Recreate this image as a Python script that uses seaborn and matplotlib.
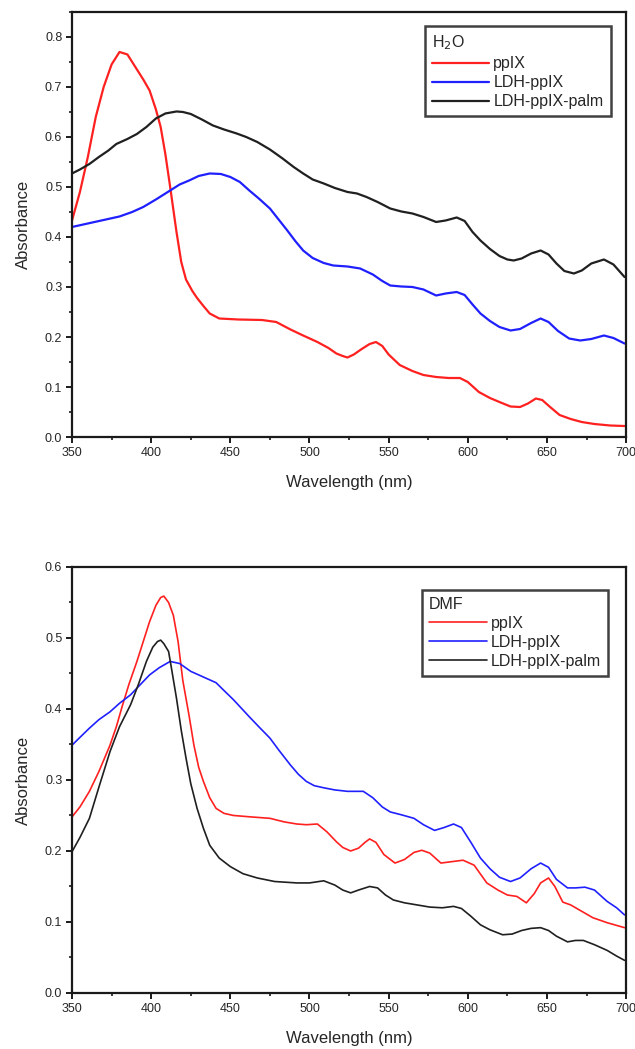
import numpy as np
import pandas as pd
import matplotlib
matplotlib.use("Agg")
import matplotlib.pyplot as plt
from matplotlib.ticker import MultipleLocator
import seaborn as sns

# ---------------- data: H2O panel ----------------
h2o_ppix_wl = [350, 355, 360, 365, 370, 375, 380, 385, 390, 395, 399, 403, 406, 409, 412, 416, 419, 422, 426, 429, 433, 437, 443, 455, 470, 479, 488, 496, 505, 512, 517, 521, 524, 528, 533, 538, 542, 546, 550, 557, 565, 572, 580, 588, 595, 600, 607, 614, 620, 627, 633, 638, 643, 647, 652, 658, 665, 672, 680, 690, 699]
h2o_ppix_a = [0.433, 0.49, 0.56, 0.64, 0.70, 0.745, 0.77, 0.765, 0.74, 0.715, 0.693, 0.655, 0.62, 0.565, 0.50, 0.41, 0.35, 0.315, 0.292, 0.278, 0.262, 0.247, 0.237, 0.235, 0.234, 0.23, 0.215, 0.203, 0.19, 0.178, 0.167, 0.162, 0.159, 0.165, 0.176, 0.186, 0.19, 0.182, 0.165, 0.144, 0.132, 0.124, 0.12, 0.118, 0.118, 0.11, 0.09, 0.078, 0.07, 0.061, 0.06, 0.067, 0.077, 0.074, 0.06, 0.044, 0.036, 0.03, 0.026, 0.023, 0.022]

h2o_ldh_wl = [350, 360, 370, 380, 388, 395, 403, 412, 418, 424, 430, 437, 444, 450, 456, 462, 468, 475, 480, 486, 491, 496, 502, 509, 515, 524, 532, 540, 546, 551, 558, 565, 572, 580, 586, 593, 598, 603, 608, 614, 620, 627, 633, 640, 646, 651, 657, 664, 671, 678, 686, 692, 699]
h2o_ldh_a = [0.42, 0.427, 0.434, 0.441, 0.45, 0.46, 0.475, 0.493, 0.505, 0.513, 0.522, 0.527, 0.526, 0.52, 0.51, 0.493, 0.477, 0.457, 0.437, 0.413, 0.392, 0.373, 0.358, 0.348, 0.343, 0.341, 0.337, 0.325, 0.312, 0.303, 0.301, 0.3, 0.295, 0.283, 0.287, 0.29, 0.284, 0.265, 0.247, 0.232, 0.22, 0.213, 0.216, 0.228, 0.237, 0.23, 0.212, 0.197, 0.193, 0.196, 0.203, 0.198, 0.187]

h2o_palm_wl = [350, 355, 361, 367, 373, 378, 385, 391, 397, 403, 409, 416, 420, 425, 432, 439, 446, 454, 460, 467, 475, 483, 490, 496, 502, 509, 516, 524, 530, 536, 543, 551, 558, 565, 572, 580, 586, 593, 598, 603, 608, 614, 620, 625, 629, 634, 640, 646, 651, 656, 661, 667, 672, 678, 686, 692, 699]
h2o_palm_a = [0.527, 0.535, 0.546, 0.56, 0.573, 0.586, 0.596, 0.606, 0.62, 0.637, 0.647, 0.651, 0.65, 0.646, 0.635, 0.623, 0.615, 0.607, 0.6, 0.59, 0.575, 0.557, 0.54, 0.527, 0.515, 0.507, 0.498, 0.49, 0.487, 0.48, 0.47, 0.457, 0.451, 0.447, 0.44, 0.43, 0.433, 0.439, 0.432, 0.41, 0.393, 0.376, 0.362, 0.355, 0.353, 0.357, 0.367, 0.373, 0.365, 0.347, 0.332, 0.327, 0.333, 0.347, 0.355, 0.345, 0.32]

# ---------------- data: DMF panel ----------------
dmf_ppix_wl = [350, 355, 361, 367, 374, 378, 382, 386, 391, 395, 399, 403, 406, 408, 411, 414, 417, 420, 424, 427, 430, 433, 437, 441, 446, 452, 463, 475, 484, 492, 498, 505, 511, 517, 521, 526, 531, 535, 538, 542, 547, 554, 560, 566, 571, 576, 583, 590, 597, 604, 612, 619, 625, 631, 637, 642, 646, 651, 655, 660, 665, 672, 679, 688, 699]
dmf_ppix_a = [0.248, 0.262, 0.284, 0.312, 0.349, 0.375, 0.406, 0.435, 0.467, 0.495, 0.523, 0.546, 0.557, 0.559, 0.55, 0.532, 0.495, 0.44, 0.39, 0.349, 0.318, 0.298, 0.275, 0.26, 0.253, 0.25, 0.248, 0.246, 0.241, 0.238, 0.237, 0.238, 0.227, 0.213, 0.205, 0.2, 0.204, 0.212, 0.217, 0.212, 0.195, 0.183, 0.188, 0.198, 0.201, 0.197, 0.183, 0.185, 0.187, 0.18, 0.155, 0.145, 0.138, 0.136, 0.127, 0.14, 0.155, 0.162, 0.15, 0.128, 0.124, 0.115, 0.106, 0.099, 0.092]

dmf_ldh_wl = [350, 355, 361, 367, 374, 380, 387, 393, 399, 405, 412, 418, 425, 433, 441, 446, 452, 457, 462, 468, 475, 481, 488, 493, 498, 503, 509, 516, 524, 534, 540, 546, 551, 558, 566, 572, 579, 585, 591, 596, 602, 608, 614, 620, 627, 633, 640, 646, 651, 656, 663, 668, 674, 680, 688, 694, 699]
dmf_ldh_a = [0.349, 0.36, 0.373, 0.385, 0.396, 0.408, 0.42, 0.434, 0.448, 0.458, 0.467, 0.464, 0.453, 0.445, 0.437, 0.426, 0.413, 0.401, 0.389, 0.375, 0.359, 0.341, 0.321, 0.308, 0.298, 0.292, 0.289, 0.286, 0.284, 0.284, 0.275, 0.262, 0.255, 0.251, 0.246, 0.237, 0.229, 0.233, 0.238, 0.233, 0.212, 0.19, 0.175, 0.163, 0.157, 0.162, 0.175, 0.183, 0.177, 0.16, 0.148, 0.148, 0.149, 0.145, 0.129, 0.12, 0.11]

dmf_palm_wl = [350, 355, 361, 367, 374, 380, 387, 392, 397, 401, 404, 406, 408, 411, 413, 416, 419, 422, 425, 429, 433, 437, 443, 450, 458, 467, 478, 492, 500, 509, 516, 521, 526, 531, 538, 543, 548, 553, 560, 568, 576, 584, 591, 596, 602, 608, 614, 622, 628, 634, 640, 646, 651, 656, 663, 668, 673, 680, 688, 694, 699]
dmf_palm_a = [0.199, 0.219, 0.246, 0.29, 0.34, 0.375, 0.406, 0.435, 0.467, 0.487, 0.495, 0.497, 0.492, 0.481, 0.455, 0.415, 0.37, 0.331, 0.295, 0.26, 0.232, 0.208, 0.19, 0.178, 0.168, 0.162, 0.157, 0.155, 0.155, 0.158, 0.152, 0.145, 0.141, 0.145, 0.15, 0.148, 0.138, 0.131, 0.127, 0.124, 0.121, 0.12, 0.122, 0.119, 0.108, 0.096, 0.089, 0.082, 0.083, 0.088, 0.091, 0.092, 0.088, 0.08, 0.072, 0.074, 0.074, 0.068, 0.06, 0.052, 0.046]

series_names = ["ppIX", "LDH-ppIX", "LDH-ppIX-palm"]
colors = ["#ff2020", "#2020ff", "#202020"]
x_ticks = [350, 400, 450, 500, 550, 600, 650, 700]


def build(wls, vals):
    frames = []
    for name, w, v in zip(series_names, wls, vals):
        frames.append(pd.DataFrame({"Wavelength": w, "Absorbance": v, "Sample": name}))
    return pd.concat(frames, ignore_index=True)


df_h2o = build([h2o_ppix_wl, h2o_ldh_wl, h2o_palm_wl], [h2o_ppix_a, h2o_ldh_a, h2o_palm_a])
df_dmf = build([dmf_ppix_wl, dmf_ldh_wl, dmf_palm_wl], [dmf_ppix_a, dmf_ldh_a, dmf_palm_a])

sns.set_theme(style="white")
plt.rcParams["font.family"] = ["Liberation Sans", "DejaVu Sans"]

fig = plt.figure(figsize=(6.35, 10.49), dpi=100)
ax1 = fig.add_axes([0.1134, 0.5834, 0.8726, 0.4052])
ax2 = fig.add_axes([0.1134, 0.0534, 0.8726, 0.4061])


def style_axis(ax, df, ymax, lw, title, legend_anchor):
    sns.lineplot(data=df, x="Wavelength", y="Absorbance",
                 hue="Sample", hue_order=series_names, palette=colors, ax=ax,
                 linewidth=lw, estimator=None, sort=False)
    ax.set_xlim(350, 700)
    ax.set_ylim(0, ymax)
    ax.set_xticks(x_ticks)
    ax.xaxis.set_minor_locator(MultipleLocator(25))
    ax.yaxis.set_major_locator(MultipleLocator(0.1))
    ax.yaxis.set_minor_locator(MultipleLocator(0.05))
    ax.yaxis.set_major_formatter(matplotlib.ticker.FormatStrFormatter("%.1f"))
    for s in ax.spines.values():
        s.set_color("#1a1a1a")
        s.set_linewidth(1.6)
    ax.tick_params(which="major", direction="out", length=4, width=1.4, color="#1a1a1a",
                   labelsize=9, bottom=True, left=True, top=False, right=False, pad=3)
    ax.tick_params(which="minor", direction="out", length=2.5, width=1.2, color="#1a1a1a",
                   bottom=True, left=True, top=False, right=False)
    ax.set_xlabel("Wavelength (nm)", fontsize=12, labelpad=12)
    ax.set_ylabel("Absorbance", fontsize=12, labelpad=10)
    handles, labels = ax.get_legend_handles_labels()
    leg = ax.legend(handles, labels, title=title, loc="upper right", bbox_to_anchor=legend_anchor,
                    borderaxespad=0, fontsize=11.5, title_fontsize=11.5, frameon=True, fancybox=False,
                    handlelength=3.6, handletextpad=0.25, labelspacing=0.25, borderpad=0.45,
                    alignment="left", edgecolor="#111111")
    leg.get_frame().set_linewidth(1.8)
    for h in leg.get_lines():
        h.set_linewidth(lw)


style_axis(ax1, df_h2o, 0.85, 1.6, "H$_2$O", (0.972, 0.966))
style_axis(ax2, df_dmf, 0.6, 1.2, "DMF", (0.967, 0.947))

fig.savefig("out.png", dpi=100)
